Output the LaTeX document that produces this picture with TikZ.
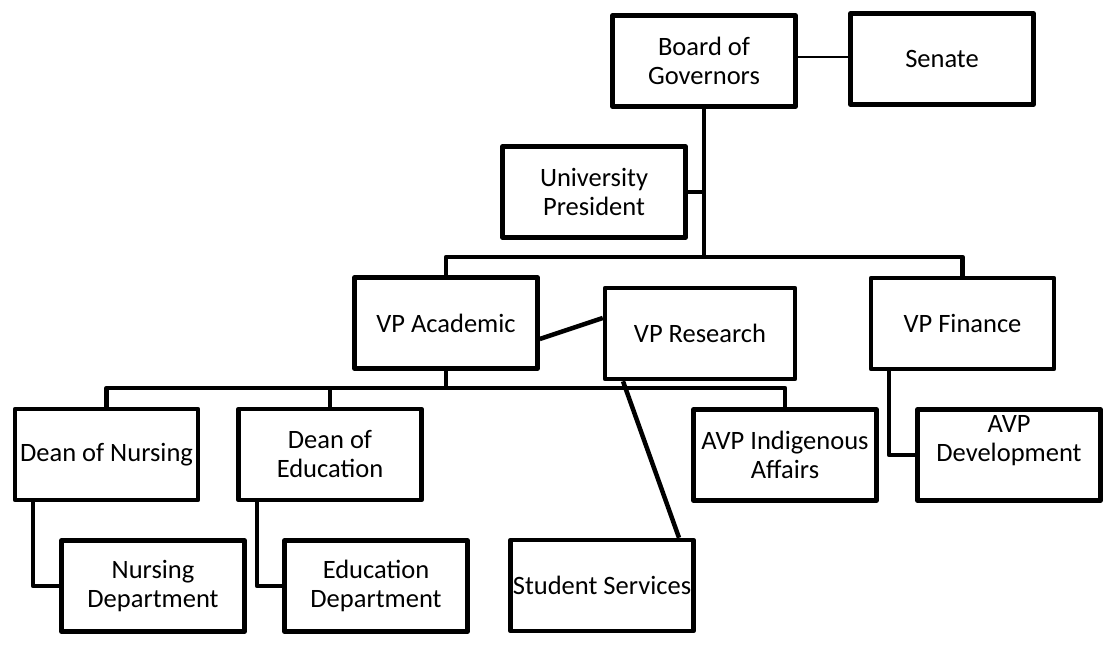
\documentclass[tikz,border=0pt]{standalone}
\usepackage{fontspec}
\setmainfont{Carlito}
\usetikzlibrary{positioning}

\tikzset{
  orgbox/.style={draw, line width=4.5pt, line join=round, minimum width=183pt, minimum height=91pt, inner sep=0pt, align=center, font=\fontsize{26.5pt}{29pt}\selectfont},
  boxtext/.style={inner sep=0pt, align=center, font=\fontsize{26.5pt}{29pt}\selectfont},
  link/.style={line width=4.5pt, line join=round}
}

\begin{document}
\begin{tikzpicture}[x=1pt,y=-1pt]
\useasboundingbox (0,0) rectangle (1103,645);
% edit here for the boxes
\node[orgbox] (board) at (704,61) {Board of\\Governors};
\node[orgbox] (senate) at (942,59) {Senate};
\node[orgbox] (pres) at (594,192) {University\\President};
\node[orgbox] (vpa) at (446,323) {VP Academic};
\node[orgbox, minimum width=190pt] (vpr) at (700,333.5) {VP Research};
\node[orgbox] (vpf) at (962.5,323.5) {VP Finance};
\node[orgbox] (deann) at (106.5,454.5) {Dean of Nursing};
\node[orgbox] (deane) at (330,454.5) {Dean of\\Education};
\node[orgbox] (avpi) at (785,455) {AVP Indigenous\\Affairs};
\node[orgbox] (avpd) at (1009,455) {};
\node[boxtext] (avpdtext) at ([yshift=14pt]avpd.center) {AVP\\Development};
\node[orgbox] (nursd) at (153,586) {Nursing\\Department};
\node[orgbox] (edud) at (376,586) {Education\\Department};
\node[orgbox] (stud) at (602,585.5) {Student Services};
% edit here for the lines
\coordinate (busA) at (704,257);
\coordinate (busB) at (446,388);
\draw[line width=2pt] ([yshift=4pt]board.east) -- ([yshift=4pt]board.east -| senate.west);
\draw[link] (board.south) -- (busA);
\draw[link] (pres.east) -- (pres.east -| board.south);
\draw[link] (vpa.north) |- (busA) -| (vpf.north);
\draw[link] ([yshift=-16pt]vpa.east) -- ([yshift=15.5pt]vpr.west);
\draw[link] (vpa.south) -- (busB);
\draw[link] (deann.north) |- (busB) -| (avpi.north);
\draw[link] (deane.north) -- (deane.north |- busB);
\draw[link] ([xshift=-77pt]vpr.south) -- ([xshift=77pt]stud.north);
\draw[link] ([xshift=-73.5pt]deann.south) |- (nursd.west);
\draw[link] ([xshift=-73pt]deane.south) |- (edud.west);
\draw[link] ([xshift=-73.5pt]vpf.south) |- (avpd.west);

\end{tikzpicture}
\end{document}
